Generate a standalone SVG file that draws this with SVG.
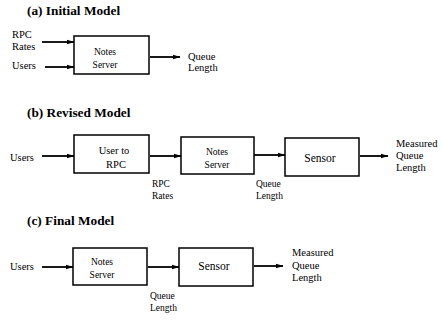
<svg xmlns="http://www.w3.org/2000/svg" width="442" height="322" viewBox="0 0 442 322" font-family="Liberation Serif, serif">
<defs>
<marker id="ah" markerWidth="8" markerHeight="6" refX="7.5" refY="3" orient="auto" markerUnits="userSpaceOnUse">
<path d="M0,0.5 L8,3 L0,5.5 Z" fill="#000"/>
</marker>
<style>
text{fill:#000}
.t{font-size:13.3px;font-weight:bold}
.l{font-size:10.5px}
.s{font-size:9.5px}
.m{font-size:10.5px}
.n{font-size:11.5px}
.b{fill:#fff;stroke:#000;stroke-width:1.5}
.c{stroke:#000;stroke-width:1.8;fill:none;marker-end:url(#ah)}
</style>
</defs>
<rect width="442" height="322" fill="#fff"/>
<text class="t" x="27" y="15">(a) Initial Model</text>
<text class="t" x="27" y="117">(b) Revised Model</text>
<text class="t" x="27" y="225">(c) Final Model</text>
<g id="connectors">
<line class="c" x1="42" y1="42" x2="74" y2="42"/>
<line class="c" x1="45" y1="67" x2="74" y2="67"/>
<line class="c" x1="150" y1="57" x2="180" y2="57"/>
<line class="c" x1="42" y1="156" x2="74" y2="156"/>
<line class="c" x1="150" y1="156" x2="181" y2="156"/>
<line class="c" x1="254" y1="155" x2="285" y2="155"/>
<line class="c" x1="360" y1="156" x2="388" y2="156"/>
<line class="c" x1="42" y1="267" x2="73" y2="267"/>
<line class="c" x1="148" y1="267" x2="179" y2="267"/>
<line class="c" x1="254" y1="266" x2="283" y2="266"/>
</g>
<g id="a-inputs">
<text class="l" x="12" y="38">RPC</text>
<text class="l" x="12" y="50">Rates</text>
<text class="l" x="12" y="69">Users</text>
</g>
<g id="a-notes-server">
<rect class="b" x="74" y="36" width="75" height="38"/>
<text class="s" x="105" y="55" text-anchor="middle">Notes</text>
<text class="s" x="105" y="68" text-anchor="middle">Server</text>
</g>
<g id="a-output">
<text class="l" x="188" y="60">Queue</text>
<text class="l" x="188" y="71">Length</text>
</g>
<g id="b-users"><text class="l" x="10" y="161">Users</text></g>
<g id="b-user-to-rpc">
<rect class="b" x="74" y="135" width="75" height="38"/>
<text class="l" x="114" y="154" text-anchor="middle">User to</text>
<text class="l" x="116" y="168" text-anchor="middle">RPC</text>
</g>
<g id="b-rpc-rates">
<text class="s" x="152" y="187">RPC</text>
<text class="s" x="152" y="199">Rates</text>
</g>
<g id="b-notes-server">
<rect class="b" x="181" y="137" width="73" height="37"/>
<text class="s" x="217" y="155" text-anchor="middle">Notes</text>
<text class="s" x="217" y="168" text-anchor="middle">Server</text>
</g>
<g id="b-queue-length">
<text class="s" x="256" y="187">Queue</text>
<text class="s" x="256" y="199">Length</text>
</g>
<g id="b-sensor">
<rect class="b" x="285" y="138" width="74" height="38"/>
<text class="n" x="320" y="162" text-anchor="middle">Sensor</text>
</g>
<g id="b-output">
<text class="m" x="396" y="147">Measured</text>
<text class="m" x="396" y="159">Queue</text>
<text class="m" x="396" y="171">Length</text>
</g>
<g id="c-users"><text class="l" x="10" y="270">Users</text></g>
<g id="c-notes-server">
<rect class="b" x="73" y="248" width="74" height="37"/>
<text class="s" x="102" y="265" text-anchor="middle">Notes</text>
<text class="s" x="102" y="278" text-anchor="middle">Server</text>
</g>
<g id="c-queue-length">
<text class="s" x="150" y="299">Queue</text>
<text class="s" x="150" y="311">Length</text>
</g>
<g id="c-sensor">
<rect class="b" x="179" y="248" width="74" height="38"/>
<text class="n" x="214" y="270" text-anchor="middle">Sensor</text>
</g>
<g id="c-output">
<text class="m" x="292" y="256">Measured</text>
<text class="m" x="292" y="269">Queue</text>
<text class="m" x="292" y="281">Length</text>
</g>
</svg>
